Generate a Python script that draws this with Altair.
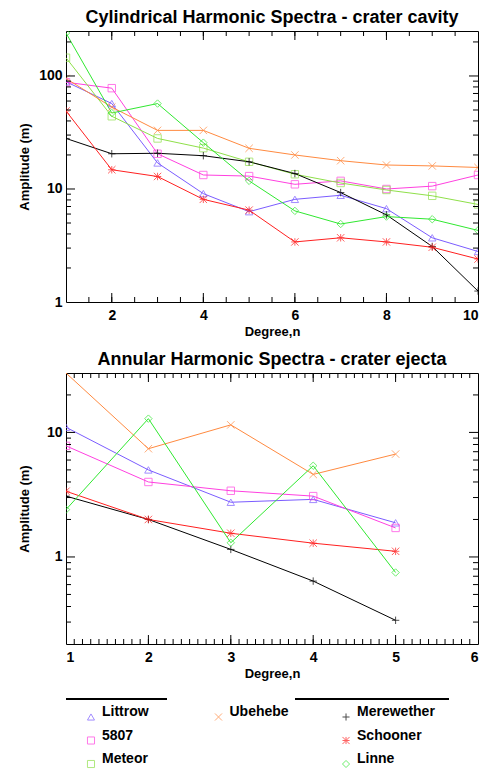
import altair as alt
import pandas as pd

# ---------------- data ----------------
names = ["Littrow", "5807", "Meteor", "Ubehebe", "Merewether", "Schooner", "Linne"]
colors = ["#7b5cff", "#ff40e0", "#8fe04a", "#ff8a40", "#000000", "#ff2020", "#30e830"]
shapes = [
    "triangle-up",
    "square",
    "square",
    "M-1,-1L1,1M-1,1L1,-1",
    "M-1,0L1,0M0,-1L0,1",
    "M-1,-1L1,1M-1,1L1,-1M-1,0L1,0M0,-1L0,1",
    "diamond",
]

# Cylindrical harmonic spectra (crater cavity), degree n = 1..10
n_cyl = [1, 2, 3, 4, 5, 6, 7, 8, 9, 10]
cyl_littrow = [89, 57, 17, 9.1, 6.3, 8.1, 8.8, 6.7, 3.7, 2.8]
cyl_5807 = [88, 78, 20.5, 13.3, 13, 11, 11.8, 10, 10.6, 13.3]
cyl_meteor = [145, 44, 28, 23, 17.4, 13.5, 11.3, 9.8, 8.7, 7.3]
cyl_ubehebe = [95, 53, 33, 33, 22.9, 20, 17.8, 16.3, 16, 15.5]
cyl_merewether = [28, 20.5, 20.7, 19.7, 17.4, 13.7, 9.3, 5.9, 3.1, 1.25]
cyl_schooner = [49, 14.8, 12.9, 8.1, 6.5, 3.4, 3.7, 3.4, 3.05, 2.4]
cyl_linne = [240, 47, 57, 25.7, 11.8, 6.4, 4.9, 5.7, 5.4, 4.3]

# Annular harmonic spectra (crater ejecta), degree n = 1..5
n_ann = [1, 2, 3, 4, 5]
ann_littrow = [11, 5.0, 2.75, 2.9, 1.88]
ann_5807 = [7.8, 4.0, 3.4, 3.08, 1.71]
ann_ubehebe = [30, 7.4, 11.5, 4.6, 6.7]
ann_merewether = [3.08, 2.0, 1.15, 0.64, 0.31]
ann_schooner = [3.37, 2.0, 1.55, 1.29, 1.11]
ann_linne = [2.4, 12.9, 1.3, 5.4, 0.75]

# axis ticks
cyl_x_labels = [2, 4, 6, 8, 10]
cyl_x_major = [2, 4, 6, 8]
cyl_x_minor = [1.5 + 0.5 * i for i in range(17)]
cyl_y_labels = [1, 10, 100]
cyl_y_major = [10, 100]
cyl_y_minor = [m * d for d in (1, 10, 100) for m in range(2, 10) if m * d <= 250]
ann_x_labels = [1, 2, 3, 4, 5, 6]
ann_x_major = [2, 3, 4, 5]
ann_x_minor = [round(1 + 0.1 * i, 1) for i in range(1, 50)]
ann_y_labels = [1, 10]
ann_y_major = [1, 10]
ann_y_minor = [round(m * d, 2) for d in (0.1, 1, 10) for m in range(2, 10) if 0.2 < m * d < 30]

# legend layout (column, row) for each series
legend_col = [0, 0, 0, 1, 2, 2, 2]
legend_row = [0, 1, 2, 0, 0, 1, 2]

FONT = "Liberation Sans"
W, H = 412, 271
MAJ, MIN = 9, 5


def long_df(n, series):
    rows = []
    for name, vals in series:
        for x, v in zip(n, vals):
            rows.append({"n": x, "amp": v, "crater": name})
    return pd.DataFrame(rows)


cyl_df = long_df(n_cyl, [("Littrow", cyl_littrow), ("5807", cyl_5807), ("Meteor", cyl_meteor),
                         ("Ubehebe", cyl_ubehebe), ("Merewether", cyl_merewether),
                         ("Schooner", cyl_schooner), ("Linne", cyl_linne)])
ann_df = long_df(n_ann, [("Littrow", ann_littrow), ("5807", ann_5807), ("Ubehebe", ann_ubehebe),
                         ("Merewether", ann_merewether), ("Schooner", ann_schooner),
                         ("Linne", ann_linne)])

color_scale = alt.Scale(domain=names, range=colors)
shape_scale = alt.Scale(domain=names, range=shapes)


def panel(df, title, xdom, ydom, xlab, xmaj, xmin, ylab, ymaj, ymin):
    xs = alt.Scale(domain=xdom, nice=False, zero=False)
    ys = alt.Scale(type="log", domain=ydom, nice=False)
    xax = alt.Axis(values=xlab, format="d", ticks=False, tickSize=0, domain=False,
                   labelPadding=6, title="Degree,n", titlePadding=3, grid=False)
    yax = alt.Axis(values=ylab, format="d", ticks=False, tickSize=0, domain=False,
                   labelPadding=4, title="Amplitude (m)", grid=False,
                   minExtent=30, maxExtent=30, titlePadding=5)
    X = alt.X("n:Q", scale=xs, axis=xax)
    Y = alt.Y("amp:Q", scale=ys, axis=yax)
    base = alt.Chart(df)
    lines = base.mark_line(strokeWidth=1, clip=True).encode(
        x=X, y=Y,
        color=alt.Color("crater:N", scale=color_scale, legend=None),
        detail="crater:N",
    )
    pts = base.mark_point(size=55, strokeWidth=1, filled=False, clip=True).encode(
        x=X, y=Y,
        color=alt.Color("crater:N", scale=color_scale, legend=None),
        shape=alt.Shape("crater:N", scale=shape_scale, legend=None),
    )

    def x_ticks(vals, size):
        d = alt.Chart(pd.DataFrame({"n": vals})).mark_rule(color="black", strokeWidth=1)
        return [d.encode(x=X, y=alt.value(H), y2=alt.value(H - size)),
                d.encode(x=X, y=alt.value(0), y2=alt.value(size))]

    def y_ticks(vals, size):
        d = alt.Chart(pd.DataFrame({"amp": vals})).mark_rule(color="black", strokeWidth=1)
        return [d.encode(y=Y, x=alt.value(0), x2=alt.value(size)),
                d.encode(y=Y, x=alt.value(W), x2=alt.value(W - size))]

    ticks = x_ticks(xmaj, MAJ) + x_ticks(xmin, MIN) + y_ticks(ymaj, MAJ) + y_ticks(ymin, MIN)
    return alt.layer(lines, pts, *ticks).properties(
        width=W, height=H,
        title=alt.TitleParams(title, font=FONT, fontSize=18, fontWeight="bold",
                              anchor="middle", frame="group", offset=4, color="black"),
    )


top = panel(cyl_df, "Cylindrical Harmonic Spectra - crater cavity", [1, 10], [1, 250],
            cyl_x_labels, cyl_x_major, cyl_x_minor, cyl_y_labels, cyl_y_major, cyl_y_minor)
bottom = panel(ann_df, "Annular Harmonic Spectra - crater ejecta", [1, 6], [0.2, 30],
               ann_x_labels, ann_x_major, ann_x_minor, ann_y_labels, ann_y_major, ann_y_minor)

leg_df = pd.DataFrame({"crater": names, "col": legend_col, "row": legend_row})
LH = 80
lx = alt.X("col:Q", scale=alt.Scale(domain=[-0.196, 3.035], nice=False, zero=False), axis=None)
ly = alt.Y("row:Q", scale=alt.Scale(domain=[-0.851, 2.553], nice=False, zero=False, reverse=True),
           axis=None)
leg_base = alt.Chart(leg_df)
leg_pts = leg_base.mark_point(size=50, strokeWidth=1, filled=False, yOffset=5).encode(
    x=lx, y=ly,
    color=alt.Color("crater:N", scale=color_scale, legend=None),
    shape=alt.Shape("crater:N", scale=shape_scale, legend=None),
)
leg_txt = leg_base.mark_text(align="left", baseline="middle", dx=11, font=FONT,
                             fontSize=14, fontWeight="bold", color="black").encode(
    x=lx, y=ly, text="crater:N")
rule1 = alt.Chart(leg_df).mark_rule(color="black", strokeWidth=1.5).encode(
    x=alt.value(0), x2=alt.value(101), y=alt.value(7))
rule2 = alt.Chart(leg_df).mark_rule(color="black", strokeWidth=1.5).encode(
    x=alt.value(229), x2=alt.value(383), y=alt.value(7))
legend = alt.layer(rule1, rule2, leg_pts, leg_txt).properties(
    width=W, height=LH, view=alt.ViewBackground(stroke=None))

chart = alt.vconcat(top, bottom, legend, spacing=11).properties(
    padding={"left": 9, "top": 0, "right": 0, "bottom": 0}
).configure_view(stroke="black", strokeWidth=1).configure_axis(
    labelFont=FONT, labelFontSize=14, labelFontWeight="bold", labelColor="black",
    titleFont=FONT, titleFontSize=13, titleFontWeight="bold", titleColor="black",
    grid=False,
)

chart.save("out.html", embed_options={"renderer": "svg", "actions": False})
